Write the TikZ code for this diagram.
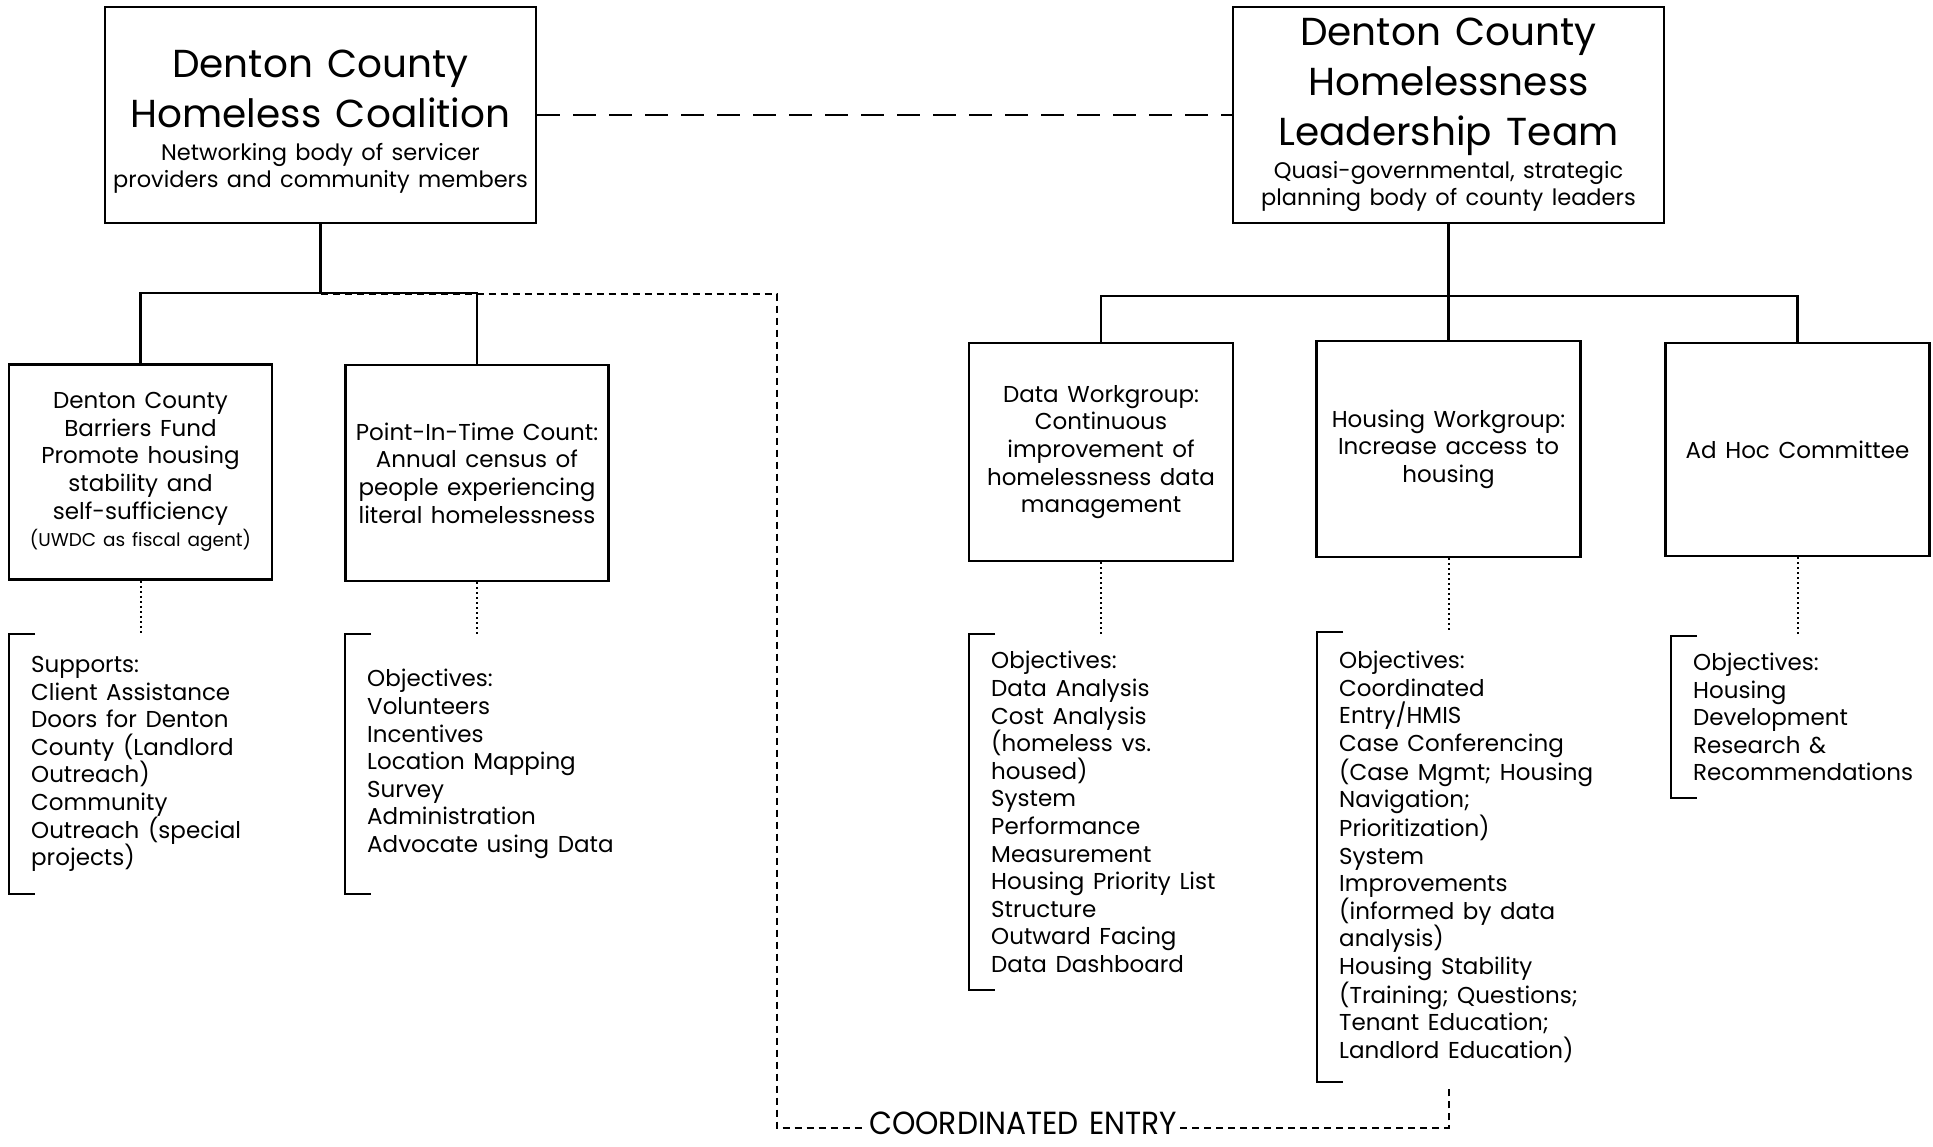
\documentclass[tikz,border=0pt]{standalone}
\usepackage{fontspec}
\setmainfont{Poppins}[WordSpace=1.4]
\newfontfamily\cefont{Poppins}[FakeStretch=0.93, WordSpace=1.3]
\newcommand{\fixsp}{\spaceskip=\fontdimen2\font\relax\xspaceskip=\fontdimen2\font\relax}
\begin{document}
\begin{tikzpicture}[x=1pt,y=-1pt,
  boxline/.style={draw, line width=2.5pt},
  topbox/.style={boxline, minimum width=431pt, minimum height=216pt, text width=425pt, align=center, inner sep=0pt},
  subbox/.style={boxline, minimum width=263pt, minimum height=215pt, align=center, inner sep=0pt,
     font={\fontsize{23}{27.6}\selectfont}},
  brtext/.style={anchor=west, align=left, inner sep=0pt, font={\fontsize{23}{27.6}\selectfont}},
  brk/.style={line width=2.5pt},
  tree/.style={line width=2.5pt},
  longdash/.style={line width=2pt, dash pattern=on 23pt off 13pt},
  dots/.style={line width=2pt, dash pattern=on 2pt off 3pt},
  cedash/.style={line width=2pt, dash pattern=on 7pt off 5pt},
]
\useasboundingbox (0,0) rectangle (1933,1146);
\fill[white] (0,0) rectangle (1933,1146);

% top boxes
\node[topbox] (hc) at (320.5,115) {{\fontsize{39}{50}\selectfont\fixsp \rule{0pt}{41pt}Denton County\\Homeless Coalition\par}\vspace{6pt}{\fontsize{22.5}{27}\selectfont\fixsp Networking body of servicer\\providers and community members\par}};
\node[topbox] (lt) at (1448.5,115) {{\fontsize{39}{50}\selectfont\fixsp Denton County\\Homelessness\\Leadership Team\par}\vspace{5pt}{\fontsize{22.5}{27}\selectfont\fixsp Quasi-governmental, strategic\\planning body of county leaders\par}};

% second row boxes
\node[subbox] (bf) at (140.5,472) {Denton County\\Barriers Fund\\Promote housing\\stability and\\self-sufficiency\\{\fontsize{18.5}{22}\selectfont (UWDC as fiscal agent)}};
\node[subbox, minimum height=216pt] (pit) at (477,473) {Point-In-Time Count:\\Annual census of\\people experiencing\\literal homelessness};
\node[subbox, minimum width=264pt, minimum height=218pt] (dw) at (1101,452) {Data Workgroup:\\Continuous\\improvement of\\homelessness data\\management};
\node[subbox, minimum width=264pt, minimum height=216pt] (hw) at (1448.5,449) {Housing Workgroup:\\Increase access to\\housing};
\node[subbox, minimum width=264pt, minimum height=213pt] (ah) at (1797.5,449.5) {Ad Hoc Committee};

% bracket texts
\node[brtext, minimum height=260pt] (br1) at (31,764) {Supports:\\Client Assistance\\Doors for Denton\\County (Landlord\\Outreach)\\Community\\Outreach (special\\projects)};
\node[brtext, minimum height=260pt] (br2) at (367,764) {Objectives:\\Volunteers\\Incentives\\Location Mapping\\Survey\\Administration\\Advocate using Data};
\node[brtext, minimum height=356pt] (br3) at (991,812) {Objectives:\\Data Analysis\\Cost Analysis\\(homeless vs.\\housed)\\System\\Performance\\Measurement\\Housing Priority List\\Structure\\Outward Facing\\Data Dashboard};
\node[brtext, minimum height=450pt] (br4) at (1339,857) {Objectives:\\Coordinated\\Entry/HMIS\\Case Conferencing\\(Case Mgmt; Housing\\Navigation;\\Prioritization)\\System\\Improvements\\(informed by data\\analysis)\\Housing Stability\\(Training; Questions;\\Tenant Education;\\Landlord Education)};
\node[brtext, minimum height=162pt] (br5) at (1693,717) {Objectives:\\Housing\\Development\\Research \&\\Recommendations};

% brackets
\foreach \b in {br1,br2,br3,br4,br5}{
  \draw[brk] ([xshift=4pt]\b.north west) -- ([xshift=-22pt]\b.north west) -- ([xshift=-22pt]\b.south west) -- ([xshift=4pt]\b.south west);
}

% tree connectors
\coordinate (lj) at (320.5,293);
\coordinate (rj) at (1448.5,296);
\draw[tree] (hc.south) -- (lj);
\draw[tree] (bf.north) -- (bf.north |- lj) -- (pit.north |- lj) -- (pit.north);
\draw[tree] (lt.south) -- (rj);
\draw[tree] (dw.north) -- (dw.north |- rj) -- (ah.north |- rj) -- (ah.north);
\draw[tree] (rj) -- (hw.north);

% dashed link between top boxes
\draw[longdash] (hc.east) -- (lt.west);

% dotted links to brackets
\draw[dots] (bf.south) -- (bf.south |- br1.north);
\draw[dots] (pit.south) -- (pit.south |- br2.north);
\draw[dots] (dw.south) -- (dw.south |- br3.north);
\draw[dots] (hw.south) -- (hw.south |- br4.north);
\draw[dots] (ah.south) -- (ah.south |- br5.north);

% coordinated entry
\node[inner sep=0pt, font={\cefont\fontsize{32}{38}\selectfont}] (ce) at (1023,1123) {COORDINATED ENTRY};
\coordinate (c1) at (777,294);
\coordinate (c2) at (777,1128);
\draw[cedash] ([yshift=-1pt]lj) -- (c1) -- (c2) -- ([xshift=-3pt]ce.west |- c2);
\draw[cedash] ([xshift=3pt]ce.east |- c2) -| ([yshift=-3pt]hw.south |- br4.south);
\end{tikzpicture}
\end{document}
